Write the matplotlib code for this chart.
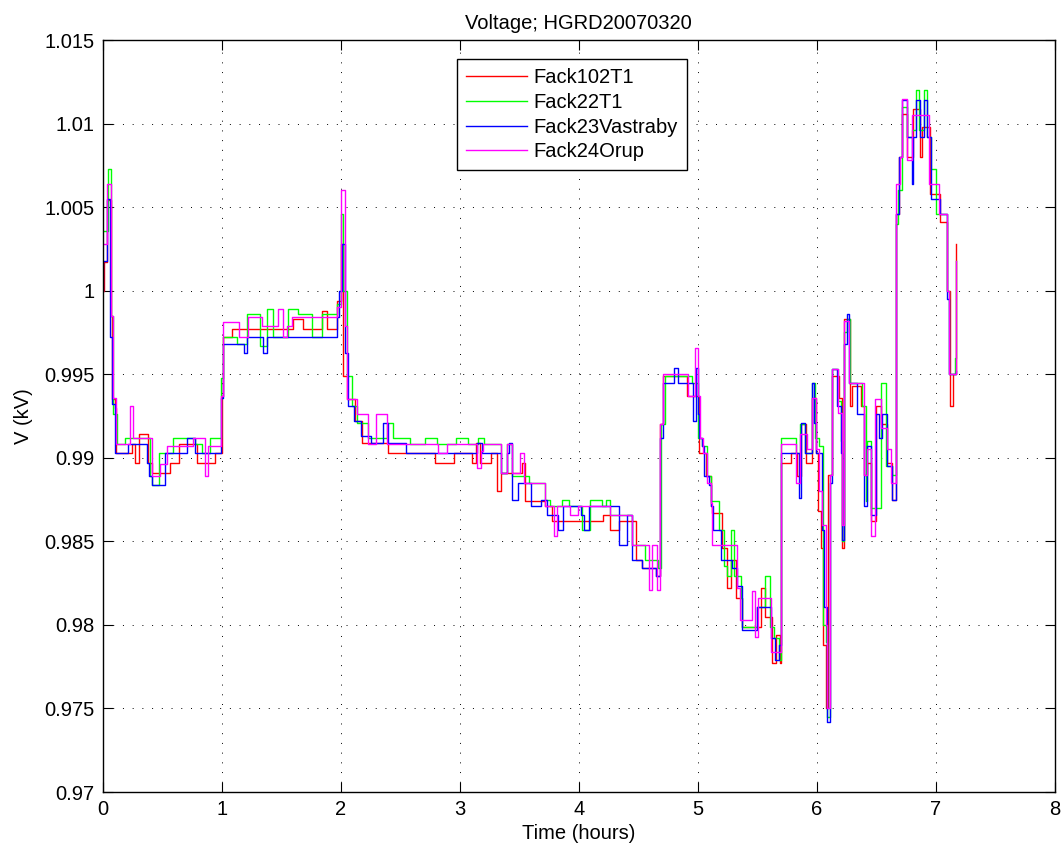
import matplotlib
matplotlib.use('Agg')
import matplotlib.pyplot as plt
from matplotlib.ticker import FixedLocator, FixedFormatter

plt.rcParams['font.family'] = ['Liberation Sans', 'DejaVu Sans']

# step-wise voltage records, (time in hours, voltage in kV)
T_RED = [0.000, 0.011, 0.034, 0.067, 0.078, 0.104, 0.112, 0.244, 0.272, 0.308, 0.384, 0.412,
         0.566, 0.644, 0.790, 0.944, 1.000, 1.014, 1.084, 1.602, 1.686, 1.840, 1.882, 1.972,
         2.000, 2.022, 2.050, 2.120, 2.182, 2.401, 2.793, 2.952, 3.101, 3.137, 3.171, 3.261,
         3.311, 3.345, 3.521, 3.549, 3.717, 3.773, 4.207, 4.263, 4.342, 4.482, 4.529, 4.650,
         4.683, 4.711, 4.913, 5.011, 5.067, 5.109, 5.123, 5.202, 5.249, 5.277, 5.325, 5.375,
         5.529, 5.566, 5.627, 5.655, 5.689, 5.703, 5.782, 5.838, 5.866, 5.913, 5.958, 5.992,
         6.014, 6.034, 6.053, 6.076, 6.095, 6.126, 6.188, 6.216, 6.232, 6.277, 6.300, 6.370,
         6.398, 6.426, 6.454, 6.496, 6.538, 6.594, 6.636, 6.669, 6.693, 6.713, 6.761, 6.813,
         6.865, 6.885, 6.951, 7.037, 7.095, 7.121, 7.144, 7.172]
V_RED = [1.0000, 1.0017, 1.0054, 0.9985, 0.9935, 0.9930, 0.9903, 0.9908, 0.9897, 0.9914, 0.9897, 0.9891,
         0.9897, 0.9908, 0.9897, 0.9903, 0.9937, 0.9972, 0.9977, 0.9983, 0.9977, 0.9988, 0.9977, 0.9994,
         1.0028, 0.9949, 0.9935, 0.9922, 0.9909, 0.9903, 0.9897, 0.9903, 0.9897, 0.9909, 0.9897, 0.9903,
         0.9880, 0.9891, 0.9897, 0.9874, 0.9871, 0.9862, 0.9866, 0.9857, 0.9862, 0.9839, 0.9834, 0.9829,
         0.9920, 0.9949, 0.9937, 0.9903, 0.9889, 0.9871, 0.9867, 0.9846, 0.9822, 0.9839, 0.9816, 0.9799,
         0.9822, 0.9805, 0.9777, 0.9794, 0.9777, 0.9897, 0.9903, 0.9889, 0.9920, 0.9897, 0.9936, 0.9903,
         0.9868, 0.9846, 0.9788, 0.9750, 0.9890, 0.9949, 0.9936, 0.9846, 0.9983, 0.9931, 0.9943, 0.9931,
         0.9890, 0.9897, 0.9862, 0.9931, 0.9920, 0.9897, 0.9875, 1.0046, 1.0080, 1.0106, 1.0080, 1.0109,
         1.0080, 1.0098, 1.0058, 1.0041, 1.0000, 0.9931, 0.9950, 1.0028]

T_GREEN = [0.000, 0.045, 0.067, 0.090, 0.118, 0.188, 0.398, 0.412, 0.476, 0.594, 0.776, 0.832,
           0.902, 0.992, 1.014, 1.126, 1.210, 1.322, 1.378, 1.429, 1.560, 1.644, 1.756, 1.840,
           1.972, 2.000, 2.022, 2.050, 2.092, 2.134, 2.232, 2.387, 2.437, 2.583, 2.709, 2.807,
           2.966, 3.073, 3.157, 3.204, 3.347, 3.401, 3.437, 3.585, 3.717, 3.759, 3.863, 3.919,
           4.025, 4.095, 4.193, 4.230, 4.263, 4.445, 4.557, 4.669, 4.689, 4.725, 4.950, 5.006,
           5.039, 5.081, 5.109, 5.179, 5.221, 5.249, 5.277, 5.305, 5.361, 5.375, 5.501, 5.566,
           5.605, 5.641, 5.683, 5.703, 5.824, 5.857, 5.902, 5.958, 5.986, 6.020, 6.053, 6.076,
           6.090, 6.109, 6.132, 6.182, 6.202, 6.216, 6.230, 6.258, 6.277, 6.384, 6.412, 6.426,
           6.454, 6.538, 6.580, 6.636, 6.664, 6.684, 6.718, 6.761, 6.799, 6.833, 6.856, 6.905,
           6.928, 6.957, 7.000, 7.095, 7.115, 7.158, 7.172]
V_GREEN = [1.0036, 1.0073, 0.9985, 0.9926, 0.9908, 0.9912, 0.9889, 0.9884, 0.9903, 0.9912, 0.9908, 0.9903,
           0.9912, 0.9948, 0.9972, 0.9968, 0.9986, 0.9967, 0.9989, 0.9972, 0.9989, 0.9986, 0.9972, 0.9986,
           0.9992, 1.0046, 1.0000, 0.9949, 0.9931, 0.9921, 0.9912, 0.9921, 0.9912, 0.9908, 0.9912, 0.9908,
           0.9912, 0.9908, 0.9912, 0.9908, 0.9891, 0.9908, 0.9889, 0.9885, 0.9875, 0.9871, 0.9875, 0.9871,
           0.9857, 0.9875, 0.9871, 0.9875, 0.9866, 0.9848, 0.9839, 0.9834, 0.9920, 0.9949, 0.9945, 0.9912,
           0.9907, 0.9889, 0.9874, 0.9857, 0.9835, 0.9829, 0.9857, 0.9829, 0.9816, 0.9799, 0.9811, 0.9829,
           0.9799, 0.9792, 0.9779, 0.9912, 0.9903, 0.9920, 0.9903, 0.9945, 0.9912, 0.9907, 0.9800, 0.9790,
           0.9745, 0.9890, 0.9953, 0.9934, 0.9910, 0.9850, 0.9975, 0.9983, 0.9945, 0.9931, 0.9874, 0.9910,
           0.9870, 0.9945, 0.9895, 0.9890, 1.0040, 1.0060, 1.0110, 1.0092, 1.0096, 1.0120, 1.0096, 1.0120,
           1.0092, 1.0073, 1.0046, 1.0000, 0.9950, 0.9960, 1.0018]

T_BLUE = [0.000, 0.006, 0.034, 0.062, 0.076, 0.104, 0.213, 0.370, 0.392, 0.412, 0.468, 0.524,
          0.711, 0.776, 0.992, 1.008, 1.188, 1.210, 1.345, 1.378, 1.972, 1.989, 2.008, 2.036,
          2.064, 2.112, 2.171, 2.252, 2.353, 2.401, 2.549, 3.143, 3.190, 3.345, 3.395, 3.417,
          3.437, 3.493, 3.599, 3.681, 3.731, 3.829, 3.871, 4.017, 4.045, 4.090, 4.342, 4.403,
          4.445, 4.529, 4.650, 4.683, 4.711, 4.804, 4.838, 4.964, 4.983, 5.006, 5.011, 5.039,
          5.053, 5.095, 5.109, 5.132, 5.193, 5.291, 5.333, 5.375, 5.501, 5.613, 5.650, 5.683,
          5.703, 5.852, 5.868, 5.902, 5.958, 5.978, 5.997, 6.048, 6.062, 6.084, 6.109, 6.132,
          6.174, 6.202, 6.216, 6.230, 6.252, 6.272, 6.342, 6.398, 6.426, 6.454, 6.496, 6.524,
          6.546, 6.594, 6.636, 6.664, 6.693, 6.718, 6.761, 6.799, 6.807, 6.833, 6.865, 6.905,
          6.928, 6.957, 7.037, 7.095, 7.115, 7.172]
V_BLUE = [1.0000, 1.0018, 1.0055, 0.9972, 0.9932, 0.9903, 0.9908, 0.9897, 0.9889, 0.9884, 0.9884, 0.9903,
          0.9912, 0.9903, 0.9936, 0.9968, 0.9963, 0.9972, 0.9963, 0.9972, 0.9984, 1.0000, 1.0028, 0.9963,
          0.9931, 0.9922, 0.9913, 0.9909, 0.9921, 0.9909, 0.9903, 0.9909, 0.9903, 0.9891, 0.9903, 0.9909,
          0.9875, 0.9885, 0.9871, 0.9875, 0.9866, 0.9857, 0.9871, 0.9866, 0.9857, 0.9871, 0.9848, 0.9866,
          0.9839, 0.9834, 0.9829, 0.9912, 0.9945, 0.9954, 0.9945, 0.9922, 0.9954, 0.9926, 0.9912, 0.9907,
          0.9889, 0.9884, 0.9871, 0.9857, 0.9839, 0.9834, 0.9823, 0.9797, 0.9811, 0.9792, 0.9779, 0.9788,
          0.9903, 0.9876, 0.9921, 0.9903, 0.9945, 0.9921, 0.9903, 0.9857, 0.9811, 0.9742, 0.9885, 0.9953,
          0.9931, 0.9903, 0.9851, 0.9968, 0.9986, 0.9945, 0.9926, 0.9871, 0.9907, 0.9866, 0.9926, 0.9912,
          0.9926, 0.9895, 0.9875, 1.0046, 1.0080, 1.0114, 1.0092, 1.0064, 1.0092, 1.0114, 1.0092, 1.0114,
          1.0092, 1.0055, 1.0046, 0.9995, 0.9950, 0.9952]

T_MAGENTA = [0.000, 0.034, 0.067, 0.084, 0.112, 0.230, 0.258, 0.412, 0.482, 0.538, 0.762, 0.860,
             0.888, 0.992, 1.014, 1.148, 1.224, 1.336, 1.476, 1.513, 1.546, 1.588, 1.972, 2.000,
             2.036, 2.050, 2.134, 2.232, 2.297, 2.392, 2.821, 2.891, 3.143, 3.176, 3.199, 3.345,
             3.395, 3.437, 3.507, 3.543, 3.717, 3.793, 3.815, 3.927, 3.997, 4.263, 4.445, 4.594,
             4.613, 4.661, 4.683, 4.711, 4.922, 4.978, 5.000, 5.017, 5.045, 5.081, 5.109, 5.123,
             5.333, 5.356, 5.459, 5.482, 5.510, 5.613, 5.703, 5.824, 5.857, 5.922, 5.958, 5.992,
             6.020, 6.048, 6.076, 6.090, 6.109, 6.126, 6.182, 6.216, 6.230, 6.272, 6.398, 6.426,
             6.454, 6.490, 6.538, 6.594, 6.622, 6.664, 6.670, 6.698, 6.718, 6.761, 6.802, 6.943,
             7.029, 7.095, 7.115, 7.172]
V_MAGENTA = [1.0028, 1.0064, 0.9985, 0.9936, 0.9908, 0.9931, 0.9912, 0.9889, 0.9896, 0.9907, 0.9912, 0.9889,
             0.9907, 0.9937, 0.9981, 0.9972, 0.9984, 0.9979, 0.9989, 0.9972, 0.9979, 0.9984, 0.9990, 1.0060,
             0.9979, 0.9935, 0.9926, 0.9908, 0.9926, 0.9908, 0.9903, 0.9908, 0.9894, 0.9904, 0.9908, 0.9891,
             0.9908, 0.9891, 0.9903, 0.9885, 0.9871, 0.9853, 0.9871, 0.9866, 0.9871, 0.9866, 0.9848, 0.9821,
             0.9848, 0.9821, 0.9920, 0.9950, 0.9937, 0.9966, 0.9937, 0.9912, 0.9903, 0.9885, 0.9873, 0.9848,
             0.9822, 0.9803, 0.9820, 0.9793, 0.9816, 0.9784, 0.9908, 0.9885, 0.9914, 0.9905, 0.9936, 0.9905,
             0.9880, 0.9860, 0.9800, 0.9750, 0.9890, 0.9953, 0.9927, 0.9860, 0.9982, 0.9945, 0.9890, 0.9905,
             0.9853, 0.9935, 0.9918, 0.9905, 0.9885, 1.0040, 1.0064, 1.0080, 1.0115, 1.0078, 1.0105, 1.0064,
             1.0046, 1.0000, 0.9950, 1.0018]

SERIES = [
    ('Fack102T1', T_RED, V_RED, '#ff0000'),
    ('Fack22T1', T_GREEN, V_GREEN, '#00ff00'),
    ('Fack23Vastraby', T_BLUE, V_BLUE, '#0000ff'),
    ('Fack24Orup', T_MAGENTA, V_MAGENTA, '#ff00ff'),
]

Y_TICKS = [0.97, 0.975, 0.98, 0.985, 0.99, 0.995, 1.0, 1.005, 1.01, 1.015]
Y_LABELS = ['0.97', '0.975', '0.98', '0.985', '0.99', '0.995', '1', '1.005', '1.01', '1.015']
X_TICKS = [0, 1, 2, 3, 4, 5, 6, 7, 8]

FS = 14.5

fig = plt.figure(figsize=(10.63, 8.5), dpi=100)
ax = fig.add_axes([0.0966, 0.0682, 0.8956, 0.8847])

for label, t, v, color in SERIES:
    ax.plot(t, v, drawstyle='steps-post', color=color, linewidth=1.0, label=label)

ax.set_xlim(0, 8)
ax.set_ylim(0.97, 1.015)
ax.xaxis.set_major_locator(FixedLocator(X_TICKS))
ax.xaxis.set_major_formatter(FixedFormatter([str(x) for x in X_TICKS]))
ax.yaxis.set_major_locator(FixedLocator(Y_TICKS))
ax.yaxis.set_major_formatter(FixedFormatter(Y_LABELS))

ax.tick_params(direction='in', length=7, width=0.8, labelsize=FS, top=True, right=True, pad=6)
ax.grid(True, color='black', linestyle=(0, (1, 9)), linewidth=0.7)
for sp in ax.spines.values():
    sp.set_linewidth(1.0)

ax.set_xlabel('Time (hours)', fontsize=FS, labelpad=3)
ax.set_ylabel('V (kV)', fontsize=FS, labelpad=8)
ax.set_title('Voltage; HGRD20070320', fontsize=FS, pad=8)

leg = ax.legend(loc='upper left', bbox_to_anchor=(0.3725, 0.9743), borderaxespad=0,
                fontsize=FS, handlelength=3.0, handletextpad=0.35, labelspacing=0.28,
                borderpad=0.45, fancybox=False, framealpha=1, edgecolor='black')
leg.get_frame().set_linewidth(1.0)

fig.savefig('out.png', dpi=100)
